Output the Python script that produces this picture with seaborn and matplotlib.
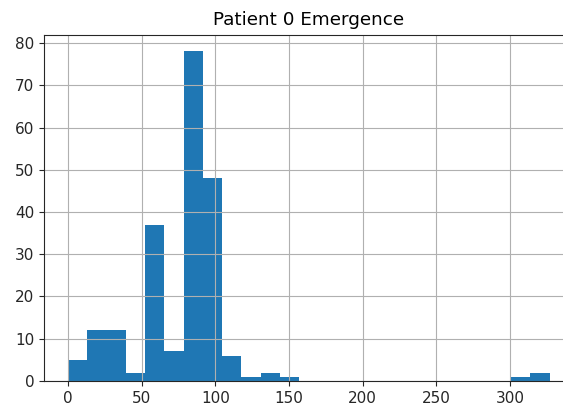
import numpy as np
import pandas as pd
import matplotlib
matplotlib.use("Agg")
import matplotlib.pyplot as plt
import seaborn as sns

# Histogram of emergence times: 25 equal-width bins spanning 0..327
bin_start = 0.0
bin_stop = 327.0
n_bins = 25
counts = [5, 12, 12, 2, 37, 7, 78, 48, 6, 1, 2, 1,
          0, 0, 0, 0, 0, 0, 0, 0, 0, 0, 0, 1, 2]
title = "Patient 0 Emergence"

edges = np.linspace(bin_start, bin_stop, n_bins + 1)
centers = (edges[:-1] + edges[1:]) / 2
df = pd.DataFrame({"emergence": centers, "count": counts})

fig = plt.figure(figsize=(5.63, 4.07), dpi=100)
ax = fig.add_axes([0.078, 0.064, 0.941, 0.850])

sns.histplot(data=df, x="emergence", weights="count", bins=n_bins,
             binrange=(bin_start, bin_stop),
             color="#1f77b4", alpha=1.0, linewidth=0, ax=ax)

ax.grid(True, color="#b0b0b0", linewidth=0.8)
ax.set_title(title, fontsize=13.2, pad=7)
ax.set_xlabel("")
ax.set_ylabel("")
ax.set_yticks(np.arange(0, 81, 10))
ax.set_xticks(np.arange(0, 301, 50))
ax.tick_params(labelsize=11, colors="#262626", labelcolor="#262626")
ax.set_xlim(bin_start - 0.05 * (bin_stop - bin_start),
            bin_stop + 0.05 * (bin_stop - bin_start))
ax.set_ylim(0, max(counts) * 1.05)
ax.spines["right"].set_visible(False)
for s in ("left", "top", "bottom"):
    ax.spines[s].set_color("#262626")

fig.savefig("out.png", dpi=100)
